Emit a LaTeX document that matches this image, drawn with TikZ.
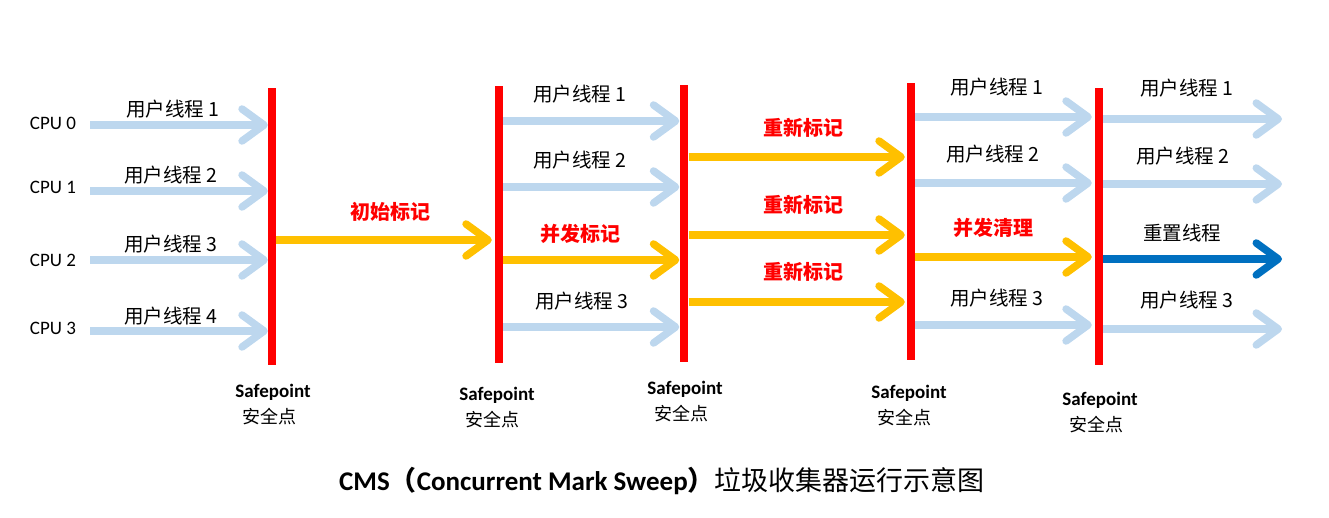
\documentclass[tikz,border=0pt]{standalone}
\usepackage{fontspec}
\setmainfont{Carlito}
\newfontfamily\cjk{Noto Sans CJK SC}
\usetikzlibrary{arrows.meta}
\definecolor{lblue}{HTML}{BDD7EE}
\definecolor{myyellow}{HTML}{FFC000}
\definecolor{dblue}{HTML}{0070C0}
\definecolor{myred}{HTML}{FF0000}
\tikzset{
  bar/.style={fill=myred, draw=none, inner sep=0pt, minimum width=8pt, minimum height=277pt},
  arr/.style={line width=7.5pt, -{Straight Barb[length=22pt, width=32pt, round]}},
  ua/.style={arr, draw=lblue},
  ya/.style={arr, draw=myyellow},
  da/.style={arr, draw=dblue},
  cpu/.style={font=\fontsize{19pt}{21pt}\selectfont, inner sep=0pt},
  thr/.style={font=\cjk\fontsize{19.5pt}{21pt}\selectfont, inner sep=0pt},
  phase/.style={font=\cjk\bfseries\fontsize{20pt}{22pt}\selectfont, text=myred, inner sep=0pt},
  sp/.style={font=\bfseries\fontsize{19pt}{21pt}\selectfont, inner sep=0pt},
  spc/.style={font=\cjk\fontsize{18pt}{20pt}\selectfont, inner sep=0pt},
}
\begin{document}
\begin{tikzpicture}[x=1pt, y=-1pt]
\useasboundingbox (0,0) rectangle (1329,518);
% bars
\node[bar] (b1) at (272,226.5) {};
\node[bar] (b2) at (499,224.5) {};
\node[bar] (b3) at (683.5,223.5) {};
\node[bar] (b4) at (911,221.5) {};
\node[bar] (b5) at (1099,226.5) {};
% CPU labels
\node[cpu] (c0) at (53,123) {CPU 0};
\node[cpu] (c1) at (53,187) {CPU 1};
\node[cpu] (c2) at (53,260) {CPU 2};
\node[cpu] (c3) at (53,328) {CPU 3};
% segment 1
\coordinate (s0) at (90,125);
\coordinate (s1) at (90,191);
\coordinate (s2) at (90,260);
\coordinate (s3) at (90,331);
\draw[ua] (s0) -- (b1.west |- s0);
\draw[ua] (s1) -- (b1.west |- s1);
\draw[ua] (s2) -- (b1.west |- s2);
\draw[ua] (s3) -- (b1.west |- s3);
\node[thr] (t10) at (173,109) {用户线程 1};
\node[thr] (t11) at (171,175) {用户线程 2};
\node[thr] (t12) at (171,244) {用户线程 3};
\node[thr] (t13) at (171,316) {用户线程 4};
% initial mark
\coordinate (im) at (0,240);
\draw[ya] (b1.east |- im) -- ([xshift=-3pt]b2.west |- im);
\node[phase] (p1) at (390,212) {初始标记};
% segment 2
\coordinate (r21) at (0,121);
\coordinate (r22) at (0,187);
\coordinate (r23) at (0,260);
\coordinate (r24) at (0,327);
\draw[ua] (b2.east |- r21) -- (b3.west |- r21);
\draw[ua] (b2.east |- r22) -- (b3.west |- r22);
\draw[ya] (b2.east |- r23) -- (b3.west |- r23);
\draw[ua] (b2.east |- r24) -- (b3.west |- r24);
\node[thr] (t21) at (580,94) {用户线程 1};
\node[thr] (t22) at (580,160) {用户线程 2};
\node[phase] (p2) at (580,234) {并发标记};
\node[thr] (t24) at (582,301) {用户线程 3};
% segment 3
\coordinate (r31) at (0,157);
\coordinate (r32) at (0,235);
\coordinate (r33) at (0,302);
\draw[ya] ([xshift=1pt]b3.east |- r31) -- ([xshift=-2pt]b4.west |- r31);
\draw[ya] ([xshift=1pt]b3.east |- r32) -- ([xshift=-2pt]b4.west |- r32);
\draw[ya] ([xshift=1pt]b3.east |- r33) -- ([xshift=-2pt]b4.west |- r33);
\node[phase] (p31) at (803,128) {重新标记};
\node[phase] (p32) at (803,205) {重新标记};
\node[phase] (p33) at (803,272) {重新标记};
% segment 4
\coordinate (r41) at (0,117);
\coordinate (r42) at (0,183);
\coordinate (r43) at (0,257);
\coordinate (r44) at (0,325);
\draw[ua] (b4.east |- r41) -- ([xshift=-3pt]b5.west |- r41);
\draw[ua] (b4.east |- r42) -- ([xshift=-3pt]b5.west |- r42);
\draw[ya] (b4.east |- r43) -- ([xshift=-3pt]b5.west |- r43);
\draw[ua] (b4.east |- r44) -- ([xshift=-3pt]b5.west |- r44);
\node[thr] (t41) at (997,87) {用户线程 1};
\node[thr] (t42) at (993,154) {用户线程 2};
\node[phase] (p4) at (993,228) {并发清理};
\node[thr] (t44) at (997,298) {用户线程 3};
% segment 5
\coordinate (e51) at (1282,119);
\coordinate (e52) at (1282,184);
\coordinate (e53) at (1282,259);
\coordinate (e54) at (1282,329);
\draw[ua] (b5.east |- e51) -- (e51);
\draw[ua] (b5.east |- e52) -- (e52);
\draw[da] (b5.east |- e53) -- (e53);
\draw[ua] (b5.east |- e54) -- (e54);
\node[thr] (t51) at (1187,88) {用户线程 1};
\node[thr] (t52) at (1183,156) {用户线程 2};
\node[thr] (t53) at (1182,233) {重置线程};
\node[thr] (t54) at (1187,300) {用户线程 3};
% safepoint labels
\node[sp] (sp1) at (273,392) {Safepoint};
\node[spc] (sc1) at (269,417) {安全点};
\node[sp] (sp2) at (497,395) {Safepoint};
\node[spc] (sc2) at (492,420) {安全点};
\node[sp] (sp3) at (685,389) {Safepoint};
\node[spc] (sc3) at (681,414) {安全点};
\node[sp] (sp4) at (909,393) {Safepoint};
\node[spc] (sc4) at (904,418) {安全点};
\node[sp] (sp5) at (1100,400) {Safepoint};
\node[spc] (sc5) at (1096,425) {安全点};
% title
\node[inner sep=0pt, font=\fontsize{27pt}{29pt}\selectfont] (title) at (662,481)
  {\textbf{CMS}{\cjk\bfseries （}\textbf{Concurrent Mark Sweep}{\cjk\bfseries ）}{\cjk 垃圾收集器运行示意图}};
\end{tikzpicture}
\end{document}
